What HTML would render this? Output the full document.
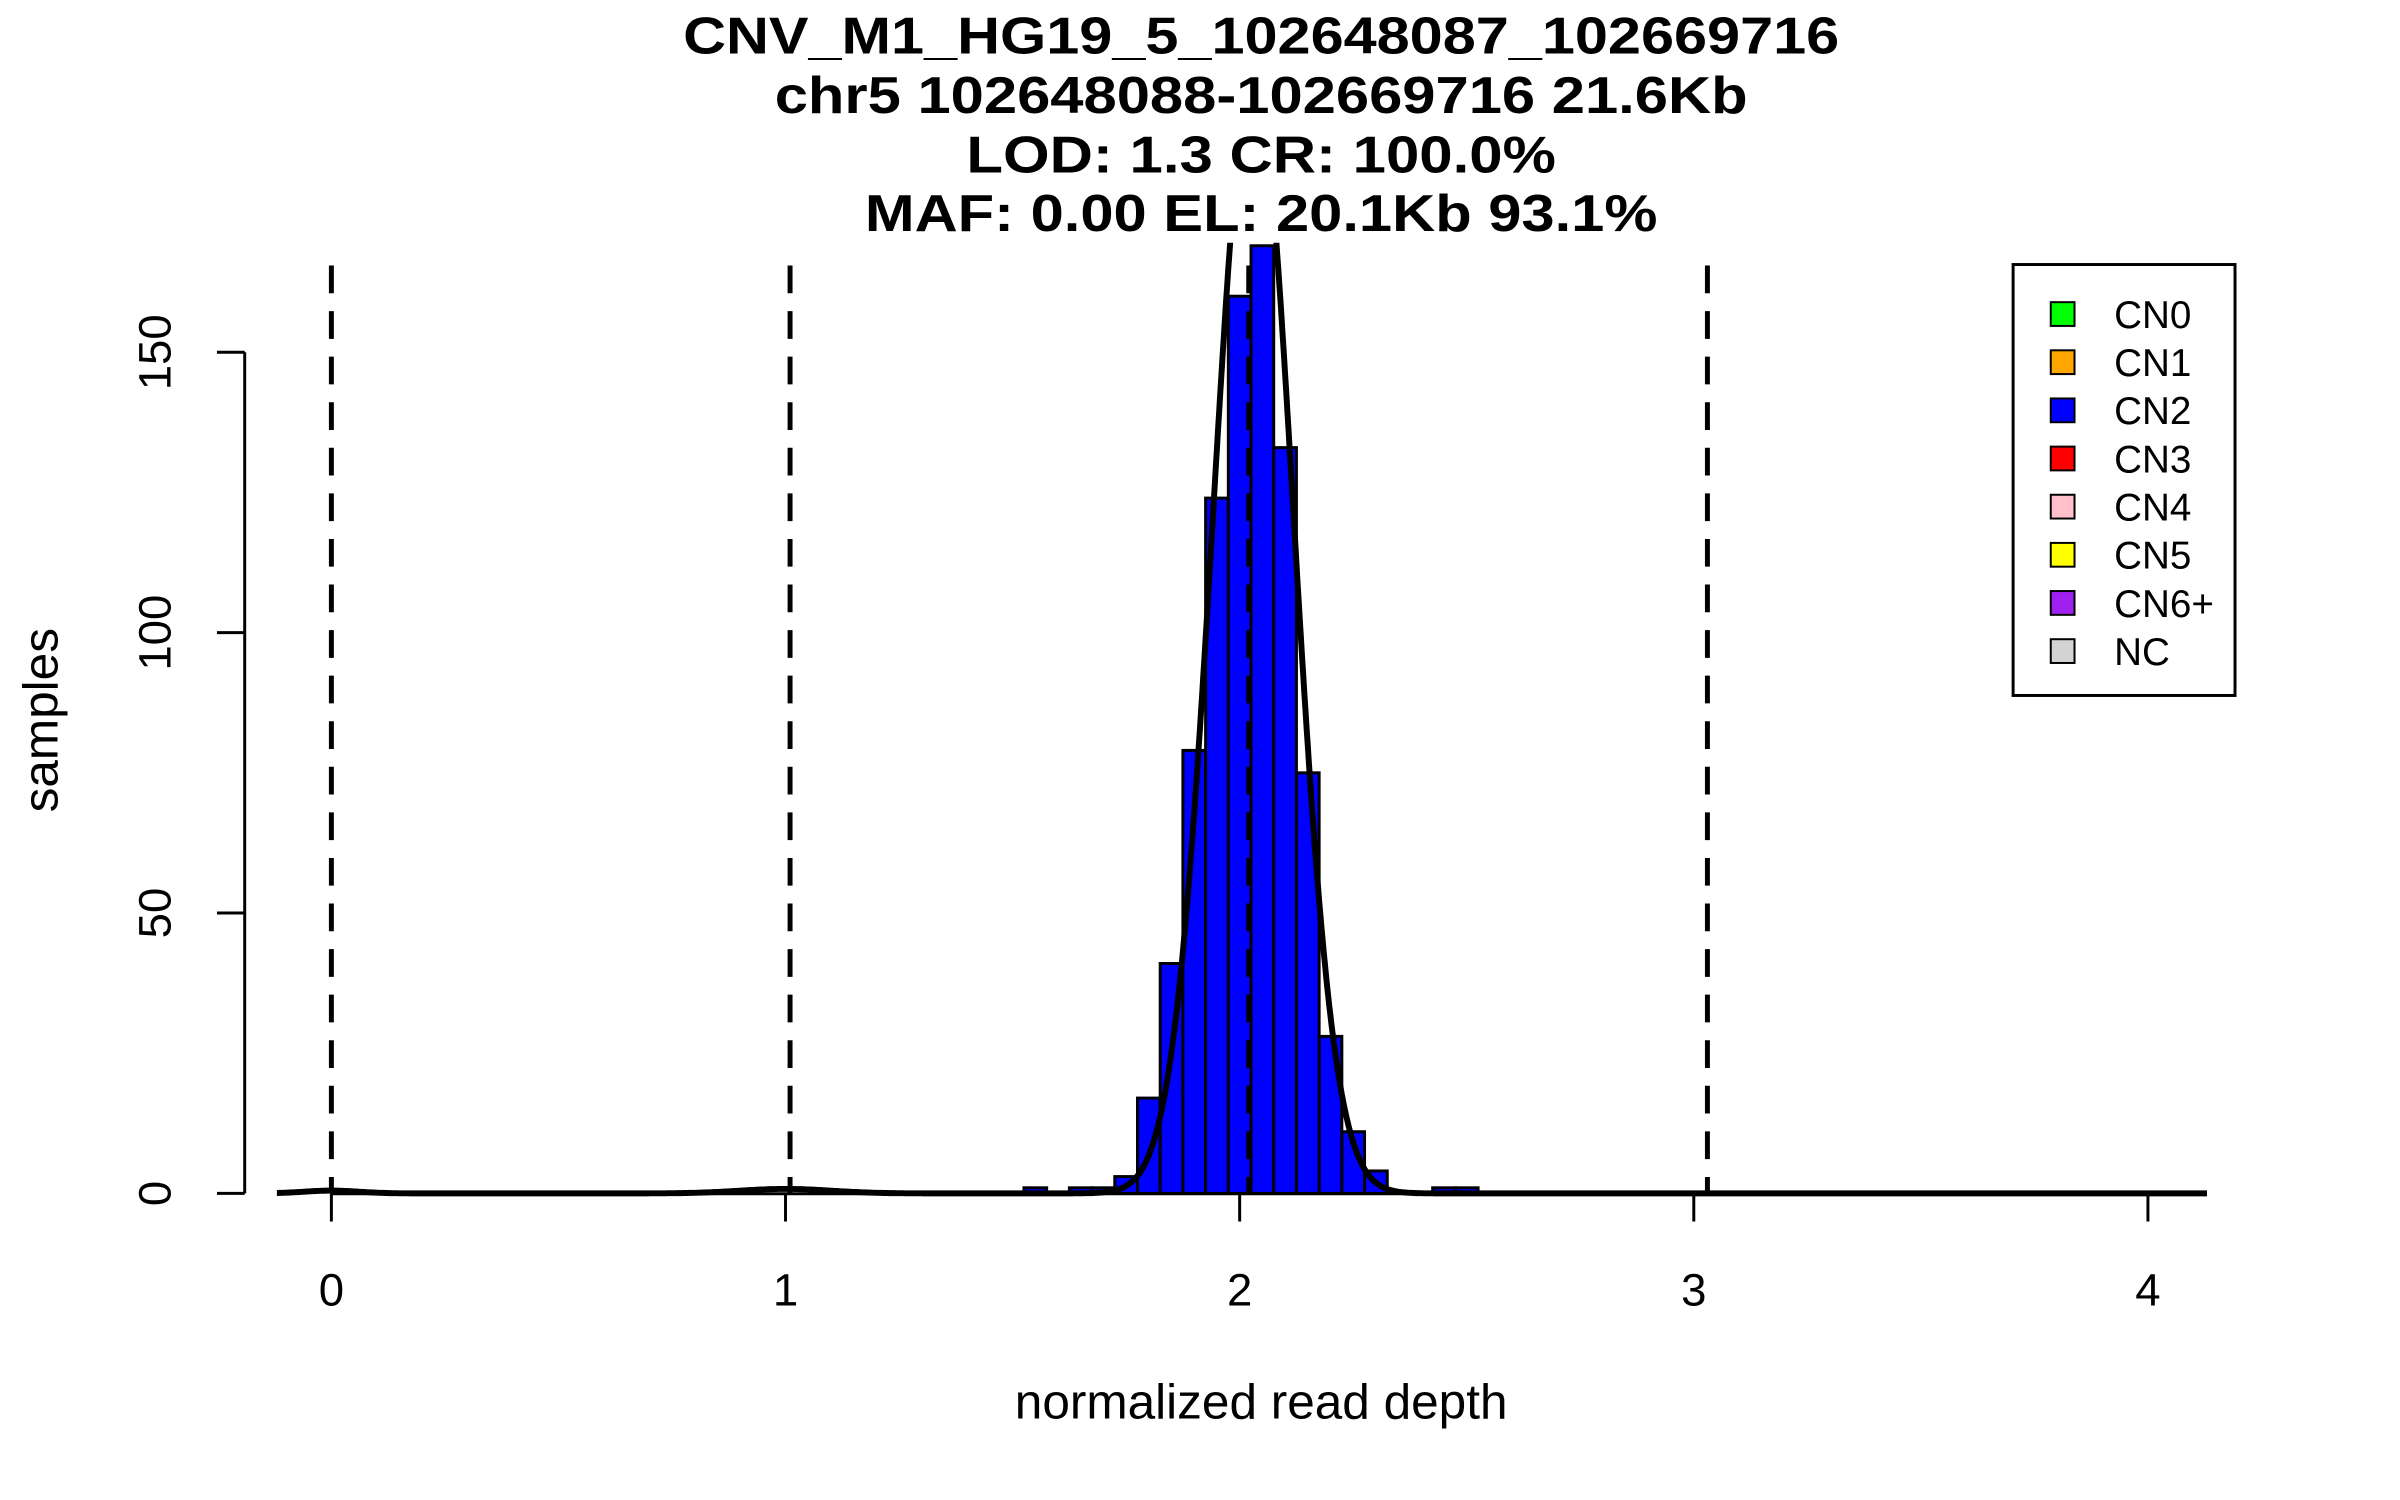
<!DOCTYPE html>
<html><head><meta charset="utf-8"><style>
html,body{margin:0;padding:0;background:#fff}
svg{display:block}
text{font-family:"Liberation Sans",sans-serif}
</style></head><body>
<svg id="chart" width="2400" height="1500" xmlns="http://www.w3.org/2000/svg">
<defs><clipPath id="plotclip"><rect x="240" y="245" width="2000" height="1000"/></clipPath></defs>
<g transform="scale(0.9907)">
<g font-weight="bold" font-size="52" text-anchor="middle">
<text x="1273" y="54" textLength="1167" lengthAdjust="spacingAndGlyphs">CNV_M1_HG19_5_102648087_102669716</text>
<text x="1273" y="114" textLength="982" lengthAdjust="spacingAndGlyphs">chr5 102648088-102669716 21.6Kb</text>
<text x="1273" y="174" textLength="595" lengthAdjust="spacingAndGlyphs">LOD: 1.3 CR: 100.0%</text>
<text x="1273" y="233" textLength="800" lengthAdjust="spacingAndGlyphs">MAF: 0.00 EL: 20.1Kb 93.1%</text>
</g>
<g id="bars" clip-path="url(#plotclip)"></g>
<g id="vlines"></g>
<path id="curve" clip-path="url(#plotclip)" fill="none" stroke="#000" stroke-width="6"/>
<g id="axes"></g>
<text x="1273" y="1432" font-size="50" text-anchor="middle">normalized read depth</text>
<text transform="translate(58,727) rotate(-90)" font-size="50" text-anchor="middle">samples</text>
<g id="legend"></g>
</g>
</svg>
<script>
const binStarts=[1.525,1.625,1.675,1.725,1.775,1.825,1.875,1.925,1.975,2.025,2.075,2.125,2.175,2.225,2.275,2.425,2.475];
const counts=[1,1,1,3,17,41,79,124,160,169,133,75,28,11,4,1,1];
const binWidth=0.05;
const cnLines=[0,1.01,2.02,3.03];
const xTicks=[0,1,2,3,4];
const yTicks=[0,50,100,150];
const curveMeans=[2.03,1.0,0.0];
const curveSds=[0.0885,0.1,0.06];
const curveAmps=[200,0.8,0.5];
const legendLabels=["CN0","CN1","CN2","CN3","CN4","CN5","CN6+","NC"];
const legendColors=["#00ff00","#ffa500","#0000ff","#ff0000","#ffc0cb","#ffff00","#a020f0","#d3d3d3"];

const NS="http://www.w3.org/2000/svg";
const X=v=>334.5+v*458.4;
const Y=v=>1204.6-v*5.66;
function mk(tag,attrs,parent){const e=document.createElementNS(NS,tag);for(const k in attrs)e.setAttribute(k,attrs[k]);parent.appendChild(e);return e;}

const bars=document.getElementById('bars');
binStarts.forEach((b,i)=>{
  if(counts[i]<=0) return;
  const r=mk('rect',{x:X(b),y:Y(counts[i]),width:X(b+binWidth)-X(b),height:Y(0)-Y(counts[i]),fill:'#0000ff',stroke:'#000','stroke-width':3},bars);
  
  
});
const vl=document.getElementById('vlines');
cnLines.forEach(v=>{
  const l=mk('line',{x1:X(v),x2:X(v),y1:268,y2:1204,stroke:'#000','stroke-width':5,'stroke-dasharray':'28,18'},vl);
  
  
});
let d='';
for(let i=0;i<=1700;i++){
  const v=-0.12+i*(4.25/1700);
  let y=0;
  for(let k=0;k<curveMeans.length;k++) y+=curveAmps[k]*Math.exp(-Math.pow(v-curveMeans[k],2)/(2*curveSds[k]*curveSds[k]));
  d+=(i?'L':'M')+X(v).toFixed(1)+','+Y(y).toFixed(1);
}
document.getElementById('curve').setAttribute('d',d);

const ax=document.getElementById('axes');
mk('line',{x1:X(0),x2:X(4),y1:1205,y2:1205,stroke:'#000','stroke-width':3},ax);
xTicks.forEach(t=>{
  mk('line',{x1:X(t),x2:X(t),y1:1205,y2:1233,stroke:'#000','stroke-width':3},ax);
  const tx=mk('text',{x:X(t),y:1318,'font-size':46,'text-anchor':'middle'},ax);tx.textContent=t;
  
  
});
mk('line',{x1:247,x2:247,y1:Y(0),y2:Y(150),stroke:'#000','stroke-width':3},ax);
yTicks.forEach(t=>{
  mk('line',{x1:247,x2:219,y1:Y(t),y2:Y(t),stroke:'#000','stroke-width':3},ax);
  const tx=mk('text',{transform:`translate(172,${Y(t)}) rotate(-90)`,'font-size':46,'text-anchor':'middle'},ax);tx.textContent=t;
  
  
});
const lg=document.getElementById('legend');
mk('rect',{x:2032,y:267,width:224,height:435,fill:'#fff',stroke:'#000','stroke-width':3},lg);
legendLabels.forEach((lab,i)=>{
  const cy=317+i*48.6;
  const s=mk('rect',{x:2070,y:cy-12,width:24,height:24,fill:legendColors[i],stroke:'#000','stroke-width':2},lg);
  
  
  const t=mk('text',{x:2134,y:cy+14,'font-size':39},lg);t.textContent=lab;
  
  
});
</script>
</body></html>
